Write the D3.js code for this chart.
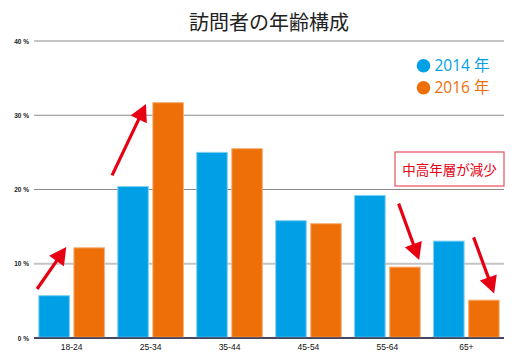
<!DOCTYPE html>
<html><head><meta charset="utf-8">
<script src="https://cdn.jsdelivr.net/npm/d3@7"></script>
<style>body{margin:0;background:#fff}</style>
</head><body>
<svg id="c" width="527" height="357"></svg>
<script>
const categories = ["18-24","25-34","35-44","45-54","55-64","65+"];
const series = ["2014 年","2016 年"];
const values2014 = [5.7,20.4,25.0,15.8,19.2,13.05];
const values2016 = [12.15,31.7,25.5,15.4,9.55,5.1];
const yTicks = [0,10,20,30,40];
const colors = ["#00a0e6","#ee6f08"];
const strokes = ["#7fd0f3","#f7b27a"];
const title = "訪問者の年齢構成";
const note = "中高年層が減少";
// arrows: [category, fraction of step, value] from -> to
const arrows = [
  {from:["18-24",0.06,6.6], to:["18-24",0.43,12.25]},
  {from:["25-34",0.01,21.9], to:["25-34",0.44,31.5]},
  {from:["55-64",0.64,18.1], to:["55-64",0.90,10.5]},
  {from:["65+",0.59,13.55], to:["65+",0.85,6.0]}
];

const svg = d3.select("#c");
const x0 = d3.scaleBand().domain(categories).range([32,506]).paddingInner(0.156).paddingOuter(0.08);
const x1 = d3.scaleBand().domain(series).range([0,x0.bandwidth()]).paddingInner(0.1);
const y = d3.scaleLinear().domain([0,40]).range([338,41]);

// grid
const g = svg.append("g");
yTicks.forEach(t=>{
  g.append("line").attr("x1",34).attr("x2",504).attr("y1",y(t)).attr("y2",y(t))
   .attr("stroke", t===0 ? "#3a3a55" : (t===10 ? "#c4c4c4" : "#8a8a8a"))
   .attr("stroke-width", t===10 ? 2 : (t===0?1.5:1));
  g.append("text").attr("x",29).attr("y",y(t)+2.5).attr("text-anchor","end")
   .attr("font-family","Liberation Sans, Arial, sans-serif").attr("font-size","6.5px").attr("font-weight","bold")
   .attr("fill","#222").text(t+" %");
});

// bars
const data = categories.map((c,i)=>({c, v:[values2014[i], values2016[i]]}));
const grp = svg.append("g").selectAll("g").data(data).join("g")
  .attr("transform", d=>`translate(${x0(d.c)},0)`);
grp.selectAll("rect").data(d=>d.v.map((v,j)=>({s:series[j], v, j}))).join("rect")
  .attr("x", d=>x1(d.s)+0.5).attr("width", x1.bandwidth()-1)
  .attr("y", d=>y(d.v)).attr("height", d=>y(0)-y(d.v)-0.75)
  .attr("fill", d=>colors[d.j]).attr("stroke", d=>strokes[d.j]).attr("stroke-width",1);

// zero line on top
svg.append("line").attr("x1",34).attr("x2",504).attr("y1",y(0)).attr("y2",y(0))
  .attr("stroke","#3a3a55").attr("stroke-width",1.5);

// x labels
svg.append("g").selectAll("text").data(categories).join("text")
  .attr("x", d=>x0(d)+x0.bandwidth()/2).attr("y",349.5).attr("text-anchor","middle")
  .attr("font-family","Liberation Sans, Arial, sans-serif").attr("font-size","8.5px")
  .attr("fill","#111").text(d=>d);

// title
svg.append("text").attr("x",269).attr("y",30).attr("text-anchor","middle")
  .attr("font-family","Noto Sans CJK JP, sans-serif").attr("font-size","20px").attr("fill","#222").text(title);

// legend
series.forEach((s,i)=>{
  svg.append("circle").attr("cx",423.5).attr("cy",65.7+i*22).attr("r",6.8).attr("fill",colors[i]);
  svg.append("text").attr("x",434.5).attr("y",71.2+i*22)
    .attr("font-family","Open Sans, Noto Sans CJK JP, sans-serif").attr("font-size","15.5px")
    .attr("fill",colors[i]).text(s);
});

// note box
svg.append("rect").attr("x",395).attr("y",152).attr("width",109).attr("height",34)
  .attr("fill","#fff").attr("stroke","#e8505f").attr("stroke-width",1.2);
svg.append("text").attr("x",449.5).attr("y",174.5).attr("text-anchor","middle")
  .attr("font-family","Noto Sans CJK JP, sans-serif").attr("font-size","13.5px").attr("fill","#e60012").text(note);

// arrows
const pt = a => [x0(a[0]) - x0.step()*x0.paddingInner()/2 + a[1]*x0.step() + (x0.step()*x0.paddingInner()/2), y(a[2])];
arrows.forEach(a=>{
  const [xa,ya] = [x0(a.from[0]) + a.from[1]*x0.step() - 6, y(a.from[2])];
  const [xb,yb] = [x0(a.to[0]) + a.to[1]*x0.step() - 6, y(a.to[2])];
  const ang = Math.atan2(yb-ya, xb-xa);
  const L = 17, W = 9;
  const bx = xb - L*Math.cos(ang), by = yb - L*Math.sin(ang);
  svg.append("line").attr("x1",xa).attr("y1",ya).attr("x2",bx+2*Math.cos(ang)).attr("y2",by+2*Math.sin(ang))
    .attr("stroke","#e60012").attr("stroke-width",3.2);
  const px = -Math.sin(ang), py = Math.cos(ang);
  svg.append("path").attr("d",`M${xb},${yb}L${bx+W*px},${by+W*py}L${bx-W*px},${by-W*py}Z`).attr("fill","#e60012");
});
</script>
</body></html>
